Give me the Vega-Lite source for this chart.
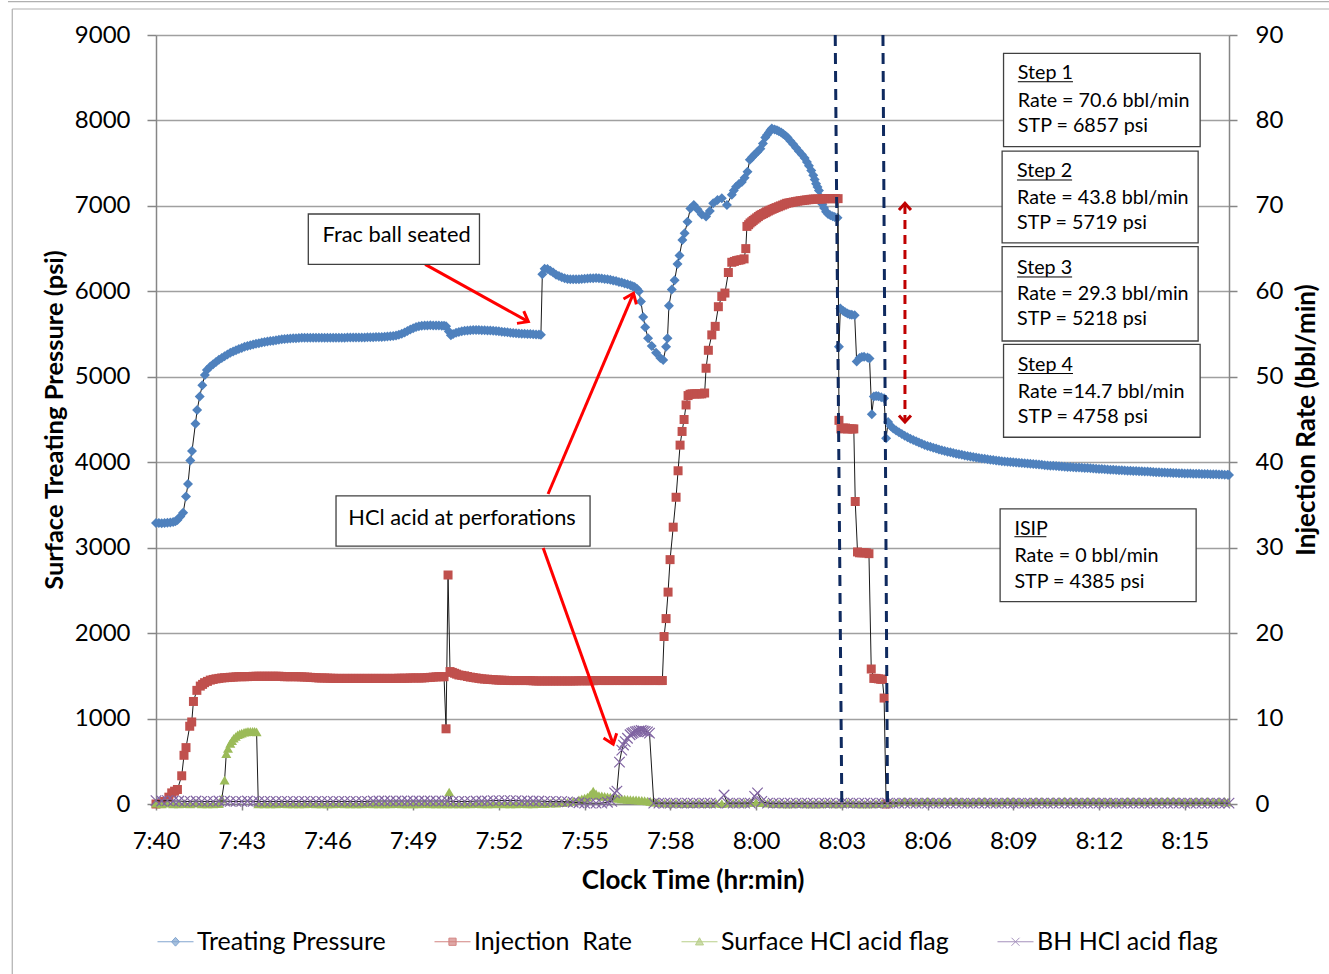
{
"$schema": "https://vega.github.io/schema/vega-lite/v6.json",
"width": 1073, "height": 769,
"autosize": "none",
"padding": {"left": 156, "top": 35, "right": 100, "bottom": 170},
"background": "white",
"config": {"view": {"stroke": null}, "font": "Lato", "text": {"font": "Lato"}},
"datasets": {
"pressure": [
{"t":0,"v":3290},{"t":0.1,"v":3288},{"t":0.2,"v":3286},{"t":0.3,"v":3290},{"t":0.4,"v":3291},{"t":0.5,"v":3294},{"t":0.6,"v":3300},{"t":0.68,"v":3310},{"t":0.75,"v":3325},{"t":0.85,"v":3365},{"t":0.95,"v":3410},{"t":1.05,"v":3600},{"t":1.12,"v":3745},{"t":1.2,"v":4020},{"t":1.26,"v":4130},{"t":1.38,"v":4450},{"t":1.44,"v":4610},{"t":1.53,"v":4770},{"t":1.62,"v":4900},{"t":1.71,"v":5020},{"t":1.78,"v":5080},{"t":1.9,"v":5120},{"t":2.0,"v":5148},{"t":2.1,"v":5173},{"t":2.2,"v":5200},{"t":2.3,"v":5220},{"t":2.4,"v":5240},{"t":2.5,"v":5260},{"t":2.6,"v":5280},{"t":2.7,"v":5296},{"t":2.8,"v":5310},{"t":2.9,"v":5325},{"t":3.0,"v":5338},{"t":3.1,"v":5350},{"t":3.2,"v":5360},{"t":3.3,"v":5370},{"t":3.4,"v":5378},{"t":3.5,"v":5386},{"t":3.6,"v":5393},{"t":3.7,"v":5400},{"t":3.8,"v":5406},{"t":3.9,"v":5412},{"t":4.0,"v":5418},{"t":4.1,"v":5423},{"t":4.2,"v":5428},{"t":4.3,"v":5433},{"t":4.4,"v":5438},{"t":4.5,"v":5442},{"t":4.6,"v":5445},{"t":4.7,"v":5448},{"t":4.8,"v":5450},{"t":4.9,"v":5452},{"t":5.0,"v":5454},{"t":5.1,"v":5456},{"t":5.2,"v":5457},{"t":5.3,"v":5458},{"t":5.4,"v":5458},{"t":5.5,"v":5458},{"t":5.6,"v":5458},{"t":5.7,"v":5458},{"t":5.8,"v":5458},{"t":5.9,"v":5457},{"t":6.0,"v":5457},{"t":6.1,"v":5457},{"t":6.2,"v":5457},{"t":6.3,"v":5458},{"t":6.4,"v":5458},{"t":6.5,"v":5458},{"t":6.6,"v":5458},{"t":6.7,"v":5459},{"t":6.8,"v":5459},{"t":6.9,"v":5459},{"t":7.0,"v":5459},{"t":7.1,"v":5460},{"t":7.2,"v":5460},{"t":7.3,"v":5461},{"t":7.4,"v":5462},{"t":7.5,"v":5463},{"t":7.6,"v":5464},{"t":7.7,"v":5465},{"t":7.8,"v":5466},{"t":7.9,"v":5467},{"t":8.0,"v":5469},{"t":8.1,"v":5471},{"t":8.2,"v":5474},{"t":8.3,"v":5478},{"t":8.4,"v":5484},{"t":8.5,"v":5493},{"t":8.6,"v":5505},{"t":8.7,"v":5519},{"t":8.8,"v":5535},{"t":8.9,"v":5552},{"t":9.0,"v":5568},{"t":9.1,"v":5582},{"t":9.2,"v":5592},{"t":9.3,"v":5597},{"t":9.4,"v":5600},{"t":9.5,"v":5601},{"t":9.6,"v":5602},{"t":9.7,"v":5601},{"t":9.8,"v":5600},{"t":9.9,"v":5599},{"t":10.0,"v":5598},{"t":10.08,"v":5596},{"t":10.15,"v":5590},{"t":10.25,"v":5530},{"t":10.32,"v":5485},{"t":10.4,"v":5500},{"t":10.5,"v":5515},{"t":10.6,"v":5525},{"t":10.7,"v":5532},{"t":10.8,"v":5538},{"t":10.9,"v":5542},{"t":11.0,"v":5545},{"t":11.1,"v":5547},{"t":11.2,"v":5548},{"t":11.3,"v":5547},{"t":11.4,"v":5546},{"t":11.5,"v":5545},{"t":11.6,"v":5543},{"t":11.7,"v":5541},{"t":11.8,"v":5538},{"t":11.9,"v":5535},{"t":12.0,"v":5532},{"t":12.1,"v":5528},{"t":12.2,"v":5524},{"t":12.3,"v":5520},{"t":12.4,"v":5516},{"t":12.5,"v":5513},{"t":12.6,"v":5510},{"t":12.7,"v":5507},{"t":12.8,"v":5505},{"t":12.9,"v":5503},{"t":13.0,"v":5502},{"t":13.1,"v":5500},{"t":13.2,"v":5498},{"t":13.3,"v":5496},{"t":13.4,"v":5495},{"t":13.47,"v":5493},
{"t":13.52,"v":6200},{"t":13.6,"v":6265},{"t":13.7,"v":6262},{"t":13.8,"v":6242},{"t":13.9,"v":6220},{"t":14.0,"v":6195},{"t":14.1,"v":6180},{"t":14.2,"v":6165},{"t":14.3,"v":6153},{"t":14.4,"v":6145},{"t":14.5,"v":6142},{"t":14.6,"v":6140},{"t":14.7,"v":6140},{"t":14.8,"v":6142},{"t":14.9,"v":6145},{"t":15.0,"v":6147},{"t":15.1,"v":6150},{"t":15.2,"v":6152},{"t":15.3,"v":6154},{"t":15.4,"v":6155},{"t":15.5,"v":6153},{"t":15.6,"v":6150},{"t":15.7,"v":6145},{"t":15.8,"v":6140},{"t":15.9,"v":6135},{"t":16.0,"v":6128},{"t":16.1,"v":6120},{"t":16.2,"v":6110},{"t":16.3,"v":6102},{"t":16.4,"v":6093},{"t":16.5,"v":6082},{"t":16.6,"v":6070},{"t":16.68,"v":6060},{"t":16.75,"v":6050},{"t":16.83,"v":6030},{"t":16.9,"v":6000},{"t":16.97,"v":5880},{"t":17.05,"v":5700},{"t":17.12,"v":5580},{"t":17.22,"v":5450},{"t":17.35,"v":5360},{"t":17.5,"v":5280},{"t":17.65,"v":5220},{"t":17.75,"v":5195},{"t":17.85,"v":5350},{"t":17.9,"v":5450},{"t":17.95,"v":5830},{"t":18.05,"v":6020},{"t":18.15,"v":6130},{"t":18.25,"v":6320},{"t":18.32,"v":6420},{"t":18.42,"v":6600},{"t":18.5,"v":6680},{"t":18.6,"v":6815},{"t":18.7,"v":6970},{"t":18.82,"v":7010},{"t":18.95,"v":6960},{"t":19.1,"v":6900},{"t":19.25,"v":6875},{"t":19.38,"v":6940},{"t":19.5,"v":7030},{"t":19.65,"v":7070},{"t":19.8,"v":7090},{"t":19.98,"v":7010},{"t":20.15,"v":7130},{"t":20.22,"v":7180},{"t":20.3,"v":7225},{"t":20.4,"v":7255},{"t":20.5,"v":7280},{"t":20.6,"v":7330},{"t":20.7,"v":7400},{"t":20.78,"v":7540},{"t":20.86,"v":7570},{"t":20.95,"v":7600},{"t":21.05,"v":7635},{"t":21.15,"v":7670},{"t":21.24,"v":7730},{"t":21.32,"v":7800},{"t":21.38,"v":7830},{"t":21.45,"v":7860},{"t":21.5,"v":7885},{"t":21.55,"v":7905},{"t":21.65,"v":7895},{"t":21.73,"v":7885},{"t":21.8,"v":7875},{"t":21.88,"v":7858},{"t":21.95,"v":7840},{"t":22.03,"v":7820},{"t":22.1,"v":7800},{"t":22.2,"v":7760},{"t":22.3,"v":7720},{"t":22.4,"v":7680},{"t":22.5,"v":7640},{"t":22.6,"v":7600},{"t":22.7,"v":7560},{"t":22.78,"v":7515},{"t":22.85,"v":7470},{"t":22.93,"v":7415},{"t":23.0,"v":7360},{"t":23.05,"v":7310},{"t":23.1,"v":7260},{"t":23.15,"v":7220},{"t":23.2,"v":7180},{"t":23.26,"v":7100},{"t":23.32,"v":7020},{"t":23.38,"v":6975},{"t":23.45,"v":6930},{"t":23.52,"v":6905},{"t":23.6,"v":6890},{"t":23.68,"v":6878},{"t":23.75,"v":6870},{"t":23.85,"v":6860},
{"t":23.9,"v":5350},{"t":23.95,"v":5800},{"t":24.05,"v":5770},{"t":24.12,"v":5755},{"t":24.2,"v":5740},{"t":24.28,"v":5730},{"t":24.35,"v":5725},{"t":24.45,"v":5720},{"t":24.52,"v":5180},{"t":24.62,"v":5220},{"t":24.7,"v":5232},{"t":24.78,"v":5235},{"t":24.9,"v":5225},{"t":24.97,"v":5215},{"t":25.05,"v":4560},{"t":25.12,"v":4770},{"t":25.2,"v":4775},{"t":25.28,"v":4772},{"t":25.38,"v":4760},{"t":25.48,"v":4750},{"t":25.55,"v":4280},{"t":25.62,"v":4470},{"t":25.72,"v":4420},{"t":25.8,"v":4395},{"t":25.9,"v":4372},
{"t":26.0,"v":4350},{"t":26.1,"v":4330},{"t":26.2,"v":4310},{"t":26.3,"v":4292},{"t":26.4,"v":4275},{"t":26.5,"v":4260},{"t":26.6,"v":4245},{"t":26.7,"v":4230},{"t":26.8,"v":4215},{"t":26.9,"v":4202},{"t":27.0,"v":4190},{"t":27.1,"v":4180},{"t":27.2,"v":4170},{"t":27.3,"v":4160},{"t":27.4,"v":4150},{"t":27.5,"v":4141},{"t":27.6,"v":4132},{"t":27.7,"v":4124},{"t":27.8,"v":4116},{"t":27.9,"v":4108},{"t":28.0,"v":4100},{"t":28.1,"v":4093},{"t":28.2,"v":4087},{"t":28.3,"v":4080},{"t":28.4,"v":4074},{"t":28.5,"v":4068},{"t":28.6,"v":4062},{"t":28.7,"v":4056},{"t":28.8,"v":4050},{"t":28.9,"v":4045},{"t":29.0,"v":4040},{"t":29.1,"v":4035},{"t":29.2,"v":4030},{"t":29.3,"v":4025},{"t":29.4,"v":4020},{"t":29.5,"v":4016},{"t":29.6,"v":4012},{"t":29.7,"v":4008},{"t":29.8,"v":4005},{"t":29.9,"v":4002},{"t":30.0,"v":3999},{"t":30.1,"v":3996},{"t":30.2,"v":3993},{"t":30.3,"v":3990},{"t":30.4,"v":3987},{"t":30.5,"v":3984},{"t":30.6,"v":3981},{"t":30.7,"v":3978},{"t":30.8,"v":3975},{"t":30.9,"v":3972},{"t":31.0,"v":3969},{"t":31.1,"v":3966},{"t":31.2,"v":3963},{"t":31.3,"v":3960},{"t":31.4,"v":3958},{"t":31.5,"v":3955},{"t":31.6,"v":3953},{"t":31.7,"v":3950},{"t":31.8,"v":3948},{"t":31.9,"v":3945},{"t":32.0,"v":3943},{"t":32.1,"v":3941},{"t":32.2,"v":3939},{"t":32.3,"v":3937},{"t":32.4,"v":3935},{"t":32.5,"v":3933},{"t":32.6,"v":3931},{"t":32.7,"v":3929},{"t":32.8,"v":3927},{"t":32.9,"v":3925},{"t":33.0,"v":3922},{"t":33.1,"v":3920},{"t":33.2,"v":3917},{"t":33.3,"v":3915},{"t":33.4,"v":3913},{"t":33.5,"v":3911},{"t":33.6,"v":3909},{"t":33.7,"v":3907},{"t":33.8,"v":3905},{"t":33.9,"v":3903},{"t":34.0,"v":3901},{"t":34.1,"v":3900},{"t":34.2,"v":3898},{"t":34.3,"v":3897},{"t":34.4,"v":3895},{"t":34.5,"v":3893},{"t":34.6,"v":3891},{"t":34.7,"v":3890},{"t":34.8,"v":3888},{"t":34.9,"v":3886},{"t":35.0,"v":3884},{"t":35.1,"v":3882},{"t":35.2,"v":3880},{"t":35.3,"v":3879},{"t":35.4,"v":3877},{"t":35.5,"v":3876},{"t":35.6,"v":3874},{"t":35.7,"v":3873},{"t":35.8,"v":3871},{"t":35.9,"v":3870},{"t":36.0,"v":3869},{"t":36.1,"v":3868},{"t":36.2,"v":3867},{"t":36.3,"v":3866},{"t":36.4,"v":3865},{"t":36.5,"v":3864},{"t":36.6,"v":3863},{"t":36.7,"v":3862},{"t":36.8,"v":3861},{"t":36.9,"v":3860},{"t":37.0,"v":3859},{"t":37.1,"v":3858},{"t":37.2,"v":3857},{"t":37.3,"v":3856},{"t":37.4,"v":3854},{"t":37.5,"v":3852},{"t":37.55,"v":3850}
],
"rate": [
{"t":0,"v":0},{"t":0.15,"v":0.05},{"t":0.3,"v":0.3},{"t":0.45,"v":0.8},{"t":0.55,"v":1.3},{"t":0.65,"v":1.5},{"t":0.75,"v":1.7},{"t":0.9,"v":3.3},{"t":0.98,"v":5.7},{"t":1.05,"v":6.6},{"t":1.18,"v":9.1},{"t":1.25,"v":9.6},{"t":1.31,"v":12.0},{"t":1.43,"v":13.3},{"t":1.55,"v":13.8},{"t":1.63,"v":14.0},{"t":1.7,"v":14.2},{"t":1.8,"v":14.35},{"t":1.9,"v":14.5},{"t":2.0,"v":14.58},{"t":2.1,"v":14.65},{"t":2.2,"v":14.7},{"t":2.3,"v":14.75},{"t":2.4,"v":14.78},{"t":2.5,"v":14.8},{"t":2.6,"v":14.83},{"t":2.7,"v":14.85},{"t":2.8,"v":14.88},{"t":2.9,"v":14.9},{"t":3.0,"v":14.9},{"t":3.1,"v":14.9},{"t":3.2,"v":14.91},{"t":3.3,"v":14.92},{"t":3.4,"v":14.94},{"t":3.5,"v":14.95},{"t":3.6,"v":14.95},{"t":3.7,"v":14.95},{"t":3.8,"v":14.95},{"t":3.9,"v":14.95},{"t":4.0,"v":14.95},{"t":4.1,"v":14.95},{"t":4.2,"v":14.95},{"t":4.3,"v":14.95},{"t":4.4,"v":14.93},{"t":4.5,"v":14.9},{"t":4.6,"v":14.9},{"t":4.7,"v":14.9},{"t":4.8,"v":14.9},{"t":4.9,"v":14.9},{"t":5.0,"v":14.89},{"t":5.1,"v":14.88},{"t":5.2,"v":14.86},{"t":5.3,"v":14.85},{"t":5.4,"v":14.82},{"t":5.5,"v":14.8},{"t":5.6,"v":14.78},{"t":5.7,"v":14.75},{"t":5.8,"v":14.75},{"t":5.9,"v":14.75},{"t":6.0,"v":14.73},{"t":6.1,"v":14.72},{"t":6.2,"v":14.71},{"t":6.3,"v":14.7},{"t":6.4,"v":14.7},{"t":6.5,"v":14.7},{"t":6.6,"v":14.7},{"t":6.7,"v":14.7},{"t":6.8,"v":14.7},{"t":6.9,"v":14.7},{"t":7.0,"v":14.7},{"t":7.1,"v":14.7},{"t":7.2,"v":14.7},{"t":7.3,"v":14.7},{"t":7.4,"v":14.7},{"t":7.5,"v":14.7},{"t":7.6,"v":14.7},{"t":7.7,"v":14.7},{"t":7.8,"v":14.7},{"t":7.9,"v":14.7},{"t":8.0,"v":14.7},{"t":8.1,"v":14.7},{"t":8.2,"v":14.7},{"t":8.3,"v":14.7},{"t":8.4,"v":14.7},{"t":8.5,"v":14.72},{"t":8.6,"v":14.72},{"t":8.7,"v":14.72},{"t":8.8,"v":14.72},{"t":8.9,"v":14.75},{"t":9.0,"v":14.75},{"t":9.1,"v":14.75},{"t":9.2,"v":14.75},{"t":9.3,"v":14.75},{"t":9.4,"v":14.77},{"t":9.5,"v":14.8},{"t":9.6,"v":14.82},{"t":9.7,"v":14.85},{"t":9.8,"v":14.88},{"t":9.9,"v":14.9},{"t":10.0,"v":14.9},{"t":10.08,"v":14.9},{"t":10.15,"v":8.8},{"t":10.22,"v":26.8},{"t":10.29,"v":15.5},{"t":10.37,"v":15.4},{"t":10.45,"v":15.3},{"t":10.52,"v":15.2},{"t":10.6,"v":15.1},{"t":10.7,"v":15.05},{"t":10.8,"v":15.0},{"t":10.9,"v":14.92},{"t":11.0,"v":14.85},{"t":11.1,"v":14.8},{"t":11.2,"v":14.75},{"t":11.3,"v":14.7},{"t":11.4,"v":14.65},{"t":11.5,"v":14.62},{"t":11.6,"v":14.6},{"t":11.7,"v":14.57},{"t":11.8,"v":14.55},{"t":11.9,"v":14.52},{"t":12.0,"v":14.5},{"t":12.1,"v":14.49},{"t":12.2,"v":14.48},{"t":12.3,"v":14.46},{"t":12.4,"v":14.45},{"t":12.5,"v":14.45},{"t":12.6,"v":14.45},{"t":12.7,"v":14.45},{"t":12.8,"v":14.45},{"t":12.9,"v":14.45},{"t":13.0,"v":14.45},{"t":13.1,"v":14.44},{"t":13.2,"v":14.42},{"t":13.3,"v":14.4},{"t":13.4,"v":14.4},{"t":13.5,"v":14.4},{"t":13.6,"v":14.4},{"t":13.7,"v":14.4},{"t":13.8,"v":14.4},{"t":13.9,"v":14.4},{"t":14.0,"v":14.4},{"t":14.1,"v":14.4},{"t":14.2,"v":14.4},{"t":14.3,"v":14.4},{"t":14.4,"v":14.4},{"t":14.5,"v":14.4},{"t":14.6,"v":14.4},{"t":14.7,"v":14.41},{"t":14.8,"v":14.42},{"t":14.9,"v":14.42},{"t":15.0,"v":14.42},{"t":15.1,"v":14.42},{"t":15.2,"v":14.42},{"t":15.3,"v":14.43},{"t":15.4,"v":14.45},{"t":15.5,"v":14.45},{"t":15.6,"v":14.45},{"t":15.7,"v":14.45},{"t":15.8,"v":14.45},{"t":15.9,"v":14.45},{"t":16.0,"v":14.45},{"t":16.1,"v":14.45},{"t":16.2,"v":14.45},{"t":16.3,"v":14.45},{"t":16.4,"v":14.45},{"t":16.5,"v":14.45},{"t":16.6,"v":14.45},{"t":16.7,"v":14.45},{"t":16.8,"v":14.45},{"t":16.9,"v":14.45},{"t":17.0,"v":14.45},{"t":17.1,"v":14.45},{"t":17.2,"v":14.45},{"t":17.3,"v":14.45},{"t":17.4,"v":14.45},{"t":17.5,"v":14.45},{"t":17.6,"v":14.45},{"t":17.66,"v":14.45},{"t":17.72,"v":14.45},
{"t":17.78,"v":19.6},{"t":17.85,"v":21.7},{"t":17.92,"v":24.8},{"t":17.99,"v":28.6},{"t":18.1,"v":32.4},{"t":18.2,"v":35.9},{"t":18.27,"v":39.0},{"t":18.34,"v":42.0},{"t":18.41,"v":43.6},{"t":18.48,"v":45.0},{"t":18.55,"v":46.7},{"t":18.62,"v":47.8},{"t":18.69,"v":47.95},{"t":18.76,"v":48.0},{"t":18.85,"v":48.0},{"t":18.93,"v":48.0},{"t":19.02,"v":48.0},{"t":19.1,"v":48.0},{"t":19.2,"v":48.1},{"t":19.25,"v":51.0},{"t":19.33,"v":53.1},{"t":19.45,"v":54.9},{"t":19.57,"v":55.9},{"t":19.68,"v":58.2},{"t":19.8,"v":59.4},{"t":19.91,"v":59.8},{"t":20.03,"v":62.2},{"t":20.15,"v":63.4},{"t":20.24,"v":63.5},{"t":20.32,"v":63.6},{"t":20.4,"v":63.65},{"t":20.47,"v":63.7},{"t":20.58,"v":63.8},{"t":20.64,"v":65.0},{"t":20.68,"v":67.6},{"t":20.74,"v":67.8},{"t":20.79,"v":68.0},{"t":20.85,"v":68.15},{"t":20.9,"v":68.3},{"t":20.96,"v":68.45},{"t":21.02,"v":68.6},{"t":21.08,"v":68.75},{"t":21.14,"v":68.9},{"t":21.2,"v":69.0},{"t":21.26,"v":69.1},{"t":21.32,"v":69.2},{"t":21.37,"v":69.3},{"t":21.43,"v":69.4},{"t":21.49,"v":69.5},{"t":21.56,"v":69.6},{"t":21.63,"v":69.7},{"t":21.7,"v":69.8},{"t":21.78,"v":69.9},{"t":21.85,"v":70.0},{"t":21.93,"v":70.1},{"t":22.0,"v":70.2},{"t":22.07,"v":70.3},{"t":22.15,"v":70.35},{"t":22.22,"v":70.4},{"t":22.3,"v":70.45},{"t":22.38,"v":70.5},{"t":22.46,"v":70.55},{"t":22.54,"v":70.6},{"t":22.62,"v":70.63},{"t":22.7,"v":70.67},{"t":22.77,"v":70.7},{"t":22.85,"v":70.73},{"t":22.92,"v":70.77},{"t":23.0,"v":70.8},{"t":23.08,"v":70.8},{"t":23.16,"v":70.8},{"t":23.24,"v":70.8},{"t":23.32,"v":70.82},{"t":23.4,"v":70.84},{"t":23.47,"v":70.85},{"t":23.55,"v":70.85},{"t":23.62,"v":70.85},{"t":23.7,"v":70.85},{"t":23.78,"v":70.85},{"t":23.87,"v":70.85},
{"t":23.9,"v":44.9},{"t":23.97,"v":43.9},{"t":24.05,"v":44.0},{"t":24.13,"v":44.0},{"t":24.2,"v":43.9},{"t":24.28,"v":43.9},{"t":24.36,"v":43.9},{"t":24.42,"v":43.9},{"t":24.47,"v":35.4},{"t":24.55,"v":29.5},{"t":24.62,"v":29.4},{"t":24.7,"v":29.4},{"t":24.78,"v":29.4},{"t":24.86,"v":29.4},{"t":24.95,"v":29.3},{"t":25.03,"v":15.8},{"t":25.12,"v":14.7},{"t":25.2,"v":14.7},{"t":25.28,"v":14.65},{"t":25.36,"v":14.6},{"t":25.42,"v":14.6},{"t":25.48,"v":12.4},{"t":25.55,"v":0}
],
"surf": [
{"t":0,"v":0.1},{"t":0.2,"v":0},{"t":0.4,"v":0.1},{"t":0.6,"v":0},{"t":0.8,"v":0},{"t":1.0,"v":0.05},{"t":1.2,"v":0},{"t":1.4,"v":0.1},{"t":1.6,"v":0},{"t":1.8,"v":0},{"t":2.0,"v":0},{"t":2.2,"v":0.05},{"t":2.3,"v":0.6},{"t":2.4,"v":2.8},{"t":2.46,"v":5.9},{"t":2.52,"v":6.5},{"t":2.6,"v":7.1},{"t":2.66,"v":7.4},{"t":2.72,"v":7.7},{"t":2.79,"v":7.9},{"t":2.86,"v":8.1},{"t":2.93,"v":8.2},{"t":3.0,"v":8.3},{"t":3.08,"v":8.4},{"t":3.15,"v":8.45},{"t":3.22,"v":8.5},{"t":3.3,"v":8.5},{"t":3.38,"v":8.5},{"t":3.45,"v":8.5},{"t":3.52,"v":8.45},{"t":3.58,"v":0},{"t":3.8,"v":0},{"t":4.0,"v":0},{"t":4.2,"v":0},{"t":4.4,"v":0.05},{"t":4.6,"v":0},{"t":4.8,"v":0},{"t":5.0,"v":0},{"t":5.2,"v":0},{"t":5.4,"v":0.05},{"t":5.6,"v":0},{"t":5.8,"v":0},{"t":6.0,"v":0},{"t":6.2,"v":0},{"t":6.4,"v":0.05},{"t":6.6,"v":0},{"t":6.8,"v":0},{"t":7.0,"v":0},{"t":7.2,"v":0},{"t":7.4,"v":0.05},{"t":7.6,"v":0},{"t":7.8,"v":0},{"t":8.0,"v":0},{"t":8.2,"v":0},{"t":8.4,"v":0.05},{"t":8.6,"v":0},{"t":8.8,"v":0},{"t":9.0,"v":0},{"t":9.2,"v":0},{"t":9.4,"v":0.05},{"t":9.6,"v":0},{"t":9.8,"v":0},{"t":10.0,"v":0},{"t":10.2,"v":0},{"t":10.26,"v":1.4},{"t":10.4,"v":0},{"t":10.6,"v":0},{"t":10.8,"v":0},{"t":11.0,"v":0},{"t":11.2,"v":0.05},{"t":11.4,"v":0},{"t":11.6,"v":0},{"t":11.8,"v":0},{"t":12.0,"v":0.05},{"t":12.2,"v":0},{"t":12.4,"v":0},{"t":12.6,"v":0},{"t":12.8,"v":0.05},{"t":13.0,"v":0},{"t":13.2,"v":0},{"t":13.4,"v":0.05},{"t":13.6,"v":0.05},{"t":13.8,"v":0.1},{"t":14.0,"v":0.1},{"t":14.2,"v":0.15},{"t":14.4,"v":0.2},{"t":14.6,"v":0.3},{"t":14.8,"v":0.5},{"t":14.9,"v":0.6},{"t":15.0,"v":0.7},{"t":15.1,"v":0.8},{"t":15.2,"v":1.1},{"t":15.3,"v":1.5},{"t":15.4,"v":1.2},{"t":15.5,"v":1.0},{"t":15.6,"v":0.95},{"t":15.7,"v":0.9},{"t":15.8,"v":0.85},{"t":15.9,"v":0.8},{"t":16.0,"v":0.75},{"t":16.1,"v":0.7},{"t":16.2,"v":0.65},{"t":16.3,"v":0.6},{"t":16.4,"v":0.58},{"t":16.5,"v":0.55},{"t":16.6,"v":0.52},{"t":16.7,"v":0.5},{"t":16.8,"v":0.48},{"t":16.9,"v":0.45},{"t":17.0,"v":0.42},{"t":17.1,"v":0.4},{"t":17.2,"v":0.35},{"t":17.3,"v":0.3},{"t":17.4,"v":0.25},{"t":17.5,"v":0.2},{"t":17.6,"v":0.15},{"t":17.8,"v":0.1},{"t":18.0,"v":0.1},{"t":18.2,"v":0.1},{"t":18.4,"v":0.05},{"t":18.6,"v":0.05},{"t":18.8,"v":0.05},{"t":19.0,"v":0.1},{"t":19.2,"v":0.05},{"t":19.4,"v":0.05},{"t":19.6,"v":0.1},{"t":19.8,"v":0.05},{"t":20.0,"v":0.1},{"t":20.2,"v":0.1},{"t":20.4,"v":0.1},{"t":20.6,"v":0.1},{"t":20.8,"v":0.15},{"t":21.0,"v":0.2},{"t":21.2,"v":0.15},{"t":21.4,"v":0.1},{"t":21.6,"v":0.05},{"t":21.8,"v":0.05},{"t":22.0,"v":0},{"t":22.2,"v":0},{"t":22.4,"v":0.05},{"t":22.6,"v":0.05},{"t":22.8,"v":0},{"t":23.0,"v":0},{"t":23.2,"v":0},{"t":23.4,"v":0.05},{"t":23.6,"v":0.05},{"t":23.8,"v":0},{"t":24.0,"v":0.05},{"t":24.2,"v":0.1},{"t":24.4,"v":0.05},{"t":24.6,"v":0},{"t":24.8,"v":0},{"t":25.0,"v":0},{"t":25.2,"v":0.05},{"t":25.4,"v":0.05},{"t":25.6,"v":0.1},{"t":25.8,"v":0.15},{"t":26.0,"v":0.2},{"t":26.2,"v":0.3},{"t":26.4,"v":0.25},{"t":26.6,"v":0.2},{"t":26.8,"v":0.25},{"t":27.0,"v":0.3},{"t":27.2,"v":0.25},{"t":27.4,"v":0.2},{"t":27.6,"v":0.3},{"t":27.8,"v":0.3},{"t":28.0,"v":0.3},{"t":28.2,"v":0.25},{"t":28.4,"v":0.2},{"t":28.6,"v":0.25},{"t":28.8,"v":0.3},{"t":29.0,"v":0.3},{"t":29.2,"v":0.25},{"t":29.4,"v":0.2},{"t":29.6,"v":0.25},{"t":29.8,"v":0.3},{"t":30.0,"v":0.3},{"t":30.2,"v":0.25},{"t":30.4,"v":0.2},{"t":30.6,"v":0.25},{"t":30.8,"v":0.3},{"t":31.0,"v":0.3},{"t":31.2,"v":0.25},{"t":31.4,"v":0.3},{"t":31.6,"v":0.3},{"t":31.8,"v":0.35},{"t":32.0,"v":0.3},{"t":32.2,"v":0.3},{"t":32.4,"v":0.25},{"t":32.6,"v":0.3},{"t":32.8,"v":0.3},{"t":33.0,"v":0.3},{"t":33.2,"v":0.25},{"t":33.4,"v":0.25},{"t":33.6,"v":0.2},{"t":33.8,"v":0.25},{"t":34.0,"v":0.3},{"t":34.2,"v":0.3},{"t":34.4,"v":0.3},{"t":34.6,"v":0.25},{"t":34.8,"v":0.3},{"t":35.0,"v":0.3},{"t":35.2,"v":0.3},{"t":35.4,"v":0.35},{"t":35.6,"v":0.35},{"t":35.8,"v":0.3},{"t":36.0,"v":0.25},{"t":36.2,"v":0.25},{"t":36.4,"v":0.3},{"t":36.6,"v":0.3},{"t":36.8,"v":0.3},{"t":37.0,"v":0.25},{"t":37.2,"v":0.3},{"t":37.4,"v":0.3},{"t":37.5,"v":0.2}
],
"bh": [
{"t":0,"v":0.4},{"t":0.2,"v":0.35},{"t":0.4,"v":0.4},{"t":0.6,"v":0.35},{"t":0.8,"v":0.35},{"t":1.0,"v":0.3},{"t":1.2,"v":0.3},{"t":1.4,"v":0.35},{"t":1.6,"v":0.3},{"t":1.8,"v":0.3},{"t":2.0,"v":0.3},{"t":2.2,"v":0.35},{"t":2.4,"v":0.35},{"t":2.6,"v":0.3},{"t":2.8,"v":0.3},{"t":3.0,"v":0.3},{"t":3.2,"v":0.35},{"t":3.4,"v":0.3},{"t":3.6,"v":0.3},{"t":3.8,"v":0.3},{"t":4.0,"v":0.3},{"t":4.2,"v":0.3},{"t":4.4,"v":0.3},{"t":4.6,"v":0.3},{"t":4.8,"v":0.3},{"t":5.0,"v":0.3},{"t":5.2,"v":0.3},{"t":5.4,"v":0.3},{"t":5.6,"v":0.3},{"t":5.8,"v":0.3},{"t":6.0,"v":0.3},{"t":6.2,"v":0.3},{"t":6.4,"v":0.3},{"t":6.6,"v":0.3},{"t":6.8,"v":0.3},{"t":7.0,"v":0.3},{"t":7.2,"v":0.3},{"t":7.4,"v":0.3},{"t":7.6,"v":0.35},{"t":7.8,"v":0.35},{"t":8.0,"v":0.35},{"t":8.2,"v":0.35},{"t":8.4,"v":0.35},{"t":8.6,"v":0.35},{"t":8.8,"v":0.35},{"t":9.0,"v":0.35},{"t":9.2,"v":0.35},{"t":9.4,"v":0.35},{"t":9.6,"v":0.35},{"t":9.8,"v":0.35},{"t":10.0,"v":0.35},{"t":10.2,"v":0.35},{"t":10.4,"v":0.3},{"t":10.6,"v":0.3},{"t":10.8,"v":0.3},{"t":11.0,"v":0.3},{"t":11.2,"v":0.35},{"t":11.4,"v":0.35},{"t":11.6,"v":0.35},{"t":11.8,"v":0.4},{"t":12.0,"v":0.4},{"t":12.2,"v":0.4},{"t":12.4,"v":0.4},{"t":12.6,"v":0.4},{"t":12.8,"v":0.35},{"t":13.0,"v":0.35},{"t":13.2,"v":0.35},{"t":13.4,"v":0.35},{"t":13.6,"v":0.3},{"t":13.8,"v":0.3},{"t":14.0,"v":0.3},{"t":14.2,"v":0.3},{"t":14.4,"v":0.25},{"t":14.6,"v":0.2},{"t":14.8,"v":0.15},{"t":15.0,"v":0.1},{"t":15.2,"v":0.1},{"t":15.4,"v":0.1},{"t":15.6,"v":0.1},{"t":15.8,"v":0.2},{"t":15.95,"v":0.3},{"t":16.05,"v":1.3},{"t":16.13,"v":1.5},{"t":16.22,"v":4.9},{"t":16.3,"v":6.3},{"t":16.36,"v":6.9},{"t":16.42,"v":7.3},{"t":16.5,"v":7.7},{"t":16.59,"v":8.1},{"t":16.65,"v":8.25},{"t":16.7,"v":8.35},{"t":16.77,"v":8.45},{"t":16.83,"v":8.5},{"t":16.9,"v":8.55},{"t":16.98,"v":8.6},{"t":17.05,"v":8.55},{"t":17.12,"v":8.5},{"t":17.2,"v":8.45},{"t":17.27,"v":8.3},{"t":17.42,"v":0.1},{"t":17.6,"v":0.1},{"t":17.8,"v":0.1},{"t":18.0,"v":0.1},{"t":18.2,"v":0.1},{"t":18.4,"v":0.1},{"t":18.6,"v":0.1},{"t":18.8,"v":0.1},{"t":19.0,"v":0.1},{"t":19.2,"v":0.1},{"t":19.4,"v":0.1},{"t":19.6,"v":0.1},{"t":19.88,"v":1.05},{"t":20.0,"v":0.1},{"t":20.2,"v":0.1},{"t":20.4,"v":0.1},{"t":20.6,"v":0.1},{"t":20.8,"v":0.1},{"t":20.95,"v":0.9},{"t":21.05,"v":1.3},{"t":21.2,"v":0.3},{"t":21.4,"v":0.1},{"t":21.6,"v":0.1},{"t":21.8,"v":0.1},{"t":22.0,"v":0.1},{"t":22.2,"v":0.1},{"t":22.4,"v":0.1},{"t":22.6,"v":0.1},{"t":22.8,"v":0.1},{"t":23.0,"v":0.1},{"t":23.2,"v":0.1},{"t":23.4,"v":0.1},{"t":23.6,"v":0.1},{"t":23.8,"v":0.1},{"t":24.0,"v":0.1},{"t":24.2,"v":0.1},{"t":24.4,"v":0.1},{"t":24.6,"v":0.1},{"t":24.8,"v":0.1},{"t":25.0,"v":0.1},{"t":25.2,"v":0.1},{"t":25.4,"v":0.1},{"t":25.6,"v":0.1},{"t":25.8,"v":0.1},{"t":26.0,"v":0.1},{"t":26.2,"v":0.1},{"t":26.4,"v":0.1},{"t":26.6,"v":0.1},{"t":26.8,"v":0.1},{"t":27.0,"v":0.1},{"t":27.2,"v":0.1},{"t":27.4,"v":0.1},{"t":27.6,"v":0.1},{"t":27.8,"v":0.1},{"t":28.0,"v":0.1},{"t":28.2,"v":0.1},{"t":28.4,"v":0.1},{"t":28.6,"v":0.1},{"t":28.8,"v":0.1},{"t":29.0,"v":0.1},{"t":29.2,"v":0.1},{"t":29.4,"v":0.1},{"t":29.6,"v":0.1},{"t":29.8,"v":0.1},{"t":30.0,"v":0.1},{"t":30.2,"v":0.1},{"t":30.4,"v":0.1},{"t":30.6,"v":0.1},{"t":30.8,"v":0.1},{"t":31.0,"v":0.1},{"t":31.2,"v":0.1},{"t":31.4,"v":0.1},{"t":31.6,"v":0.1},{"t":31.8,"v":0.1},{"t":32.0,"v":0.1},{"t":32.2,"v":0.1},{"t":32.4,"v":0.1},{"t":32.6,"v":0.1},{"t":32.8,"v":0.1},{"t":33.0,"v":0.1},{"t":33.2,"v":0.1},{"t":33.4,"v":0.1},{"t":33.6,"v":0.1},{"t":33.8,"v":0.1},{"t":34.0,"v":0.1},{"t":34.2,"v":0.1},{"t":34.4,"v":0.1},{"t":34.6,"v":0.1},{"t":34.8,"v":0.1},{"t":35.0,"v":0.1},{"t":35.2,"v":0.1},{"t":35.4,"v":0.1},{"t":35.6,"v":0.1},{"t":35.8,"v":0.1},{"t":36.0,"v":0.1},{"t":36.2,"v":0.1},{"t":36.4,"v":0.1},{"t":36.6,"v":0.1},{"t":36.8,"v":0.1},{"t":37.0,"v":0.1},{"t":37.2,"v":0.1},{"t":37.4,"v":0.1},{"t":37.55,"v":0.1}
]
},
"layer": [
{"data": {"name": "pressure"},
 "mark": {"type": "line", "color": "#1a1a1a", "strokeWidth": 1},
 "encoding": {
  "x": {"field": "t", "type": "quantitative", "scale": {"domain": [0, 37.55], "nice": false, "zero": false},
   "axis": {"title": "Clock Time (hr:min)", "values": [0,3,6,9,12,15,18,21,24,27,30,33,36],
    "labelExpr": "['7:40','7:43','7:46','7:49','7:52','7:55','7:58','8:00','8:03','8:06','8:09','8:12','8:15'][round(datum.value/3)]",
    "grid": false, "domainColor": "#868686", "domainWidth": 1.5, "tickColor": "#868686", "tickWidth": 1.5, "tickSize": 6,
    "labelFont": "Lato", "labelFontSize": 24, "labelColor": "#000", "labelPadding": 19, "labelFlush": false, "labelOverlap": false,
    "titleFont": "Lato", "titleFontSize": 26, "titleFontWeight": "bold", "titleColor": "#000",
    "titleX": 536.5, "titleY": 76, "titleBaseline": "middle", "titleAlign": "center"}},
  "y": {"field": "v", "type": "quantitative", "scale": {"domain": [0, 9000], "nice": false},
   "axis": {"orient": "left", "title": "Surface Treating Pressure (psi)", "values": [0,1000,2000,3000,4000,5000,6000,7000,8000,9000], "format": "d",
    "labelFont": "Lato", "labelFontSize": 24, "labelColor": "#000", "labelPadding": 17,
    "tickSize": 9, "tickColor": "#868686", "tickWidth": 1.5, "domainColor": "#868686", "domainWidth": 1.5,
    "grid": true, "gridColor": "#A0A0A0", "gridWidth": 1.5,
    "titleFont": "Lato", "titleFontSize": 25.5, "titleFontWeight": "bold", "titleColor": "#000",
    "titleX": -102, "titleY": 384.5, "titleAngle": 270, "titleBaseline": "middle", "titleAlign": "center"}}
 }},
{"data": {"name": "pressure"},
 "mark": {"type": "point", "shape": "diamond", "filled": true, "size": 100, "color": "#4F81BD", "opacity": 1},
 "encoding": {
  "x": {"field": "t", "type": "quantitative"},
  "y": {"field": "v", "type": "quantitative", "scale": {"domain": [0, 9000], "nice": false}, "axis": null}
 }},
{"data": {"name": "rate"},
 "mark": {"type": "line", "color": "#1a1a1a", "strokeWidth": 1},
 "encoding": {
  "x": {"field": "t", "type": "quantitative"},
  "y": {"field": "v", "type": "quantitative", "scale": {"domain": [0, 90], "nice": false},
   "axis": {"orient": "right", "title": "Injection Rate (bbl/min)", "values": [0,10,20,30,40,50,60,70,80,90],
    "labelFont": "Lato", "labelFontSize": 24, "labelColor": "#000", "labelPadding": 18,
    "tickSize": 8, "tickColor": "#868686", "tickWidth": 1.5, "domainColor": "#868686", "domainWidth": 1.5, "grid": false,
    "titleFont": "Lato", "titleFontSize": 26, "titleFontWeight": "bold", "titleColor": "#000",
    "titleX": 77, "titleY": 384.5, "titleAngle": 270, "titleBaseline": "middle", "titleAlign": "center"}}
 }},
{"data": {"name": "rate"},
 "mark": {"type": "point", "shape": "square", "filled": true, "size": 81, "color": "#C0504D", "opacity": 1},
 "encoding": {
  "x": {"field": "t", "type": "quantitative"},
  "y": {"field": "v", "type": "quantitative", "scale": {"domain": [0, 90], "nice": false}, "axis": null}
 }},
{"data": {"name": "surf"},
 "mark": {"type": "line", "color": "#1a1a1a", "strokeWidth": 1},
 "encoding": {
  "x": {"field": "t", "type": "quantitative"},
  "y": {"field": "v", "type": "quantitative", "scale": {"domain": [0, 90], "nice": false}, "axis": null}
 }},
{"data": {"name": "surf"},
 "mark": {"type": "point", "shape": "triangle-up", "filled": true, "size": 100, "color": "#9BBB59", "opacity": 1},
 "encoding": {
  "x": {"field": "t", "type": "quantitative"},
  "y": {"field": "v", "type": "quantitative", "scale": {"domain": [0, 90], "nice": false}, "axis": null}
 }},
{"data": {"name": "bh"},
 "mark": {"type": "line", "color": "#1a1a1a", "strokeWidth": 1},
 "encoding": {
  "x": {"field": "t", "type": "quantitative"},
  "y": {"field": "v", "type": "quantitative", "scale": {"domain": [0, 90], "nice": false}, "axis": null}
 }},
{"data": {"name": "bh"},
 "mark": {"type": "point", "shape": "M-1,-1L1,1M-1,1L1,-1", "filled": false, "size": 110, "color": "#8064A2", "strokeWidth": 1.2, "opacity": 1},
 "encoding": {
  "x": {"field": "t", "type": "quantitative"},
  "y": {"field": "v", "type": "quantitative", "scale": {"domain": [0, 90], "nice": false}, "axis": null}
 }},
{"data": {"values": [
  {"series": "Treating Pressure", "t": -30, "v": -5000},
  {"series": "Injection\u00a0 Rate", "t": -30, "v": -5000},
  {"series": "Surface HCl acid flag", "t": -30, "v": -5000},
  {"series": "BH HCl acid flag", "t": -30, "v": -5000}]},
 "mark": {"type": "point", "filled": true, "clip": true, "strokeWidth": 1},
 "encoding": {
  "x": {"field": "t", "type": "quantitative"},
  "y": {"field": "v", "type": "quantitative", "scale": {"domain": [0, 9000], "nice": false}, "axis": null},
  "fill": {"field": "series", "type": "nominal",
   "scale": {"domain": ["Treating Pressure", "Injection\u00a0 Rate", "Surface HCl acid flag", "BH HCl acid flag"], "range": ["#4F81BD", "#C0504D", "#9BBB59", "#8064A2"]},
   "legend": {"orient": "none", "legendX": 7, "legendY": 894, "direction": "horizontal", "title": null, "labelFont": "Lato", "labelFontSize": 25, "labelColor": "#000", "symbolSize": 64, "symbolStrokeWidth": 1, "labelOffset": 9, "columnPadding": 46, "padding": 0, "labelLimit": 400}},
  "stroke": {"field": "series", "type": "nominal",
   "scale": {"domain": ["Treating Pressure", "Injection\u00a0 Rate", "Surface HCl acid flag", "BH HCl acid flag"], "range": ["#4F81BD", "#C0504D", "#9BBB59", "#8064A2"]},
   "legend": {"orient": "none", "legendX": 7, "legendY": 894, "direction": "horizontal", "title": null, "labelFont": "Lato", "labelFontSize": 25, "labelColor": "#000", "symbolSize": 64, "symbolStrokeWidth": 1, "labelOffset": 9, "columnPadding": 46, "padding": 0, "labelLimit": 400}},
  "shape": {"field": "series", "type": "nominal",
   "scale": {"domain": ["Treating Pressure", "Injection\u00a0 Rate", "Surface HCl acid flag", "BH HCl acid flag"],
    "range": ["M-4.5,0H4.5M0,-1.1L1,0L0,1.1L-1,0Z", "M-4.5,0H4.5M-0.9,-0.9H0.9V0.9H-0.9Z", "M-4.5,0H4.5M0,-1L1,0.8H-1Z", "M-4.5,0H4.5M-1,-1L1,1M-1,1L1,-1"]},
   "legend": {"orient": "none", "legendX": 7, "legendY": 894, "direction": "horizontal", "title": null, "labelFont": "Lato", "labelFontSize": 25, "labelColor": "#000", "symbolSize": 64, "symbolStrokeWidth": 1, "labelOffset": 9, "columnPadding": 46, "padding": 0, "labelLimit": 400}}
 }},
{"data": {"values": [{"t": 23.77, "t2": 24.0, "v": 9000, "v2": 0}, {"t": 25.44, "t2": 25.6, "v": 9000, "v2": 0}]},
 "mark": {"type": "rule", "color": "#0F2A5F", "strokeWidth": 3, "strokeDash": [11, 7]},
 "encoding": {
  "x": {"field": "t", "type": "quantitative"}, "x2": {"field": "t2"},
  "y": {"field": "v", "type": "quantitative", "scale": {"domain": [0, 9000], "nice": false}, "axis": null}, "y2": {"field": "v2"}
 }},
{"data": {"values": [{"t": 9.42, "t2": 13.03, "v": 6316, "v2": 5645}, {"t": 13.72, "t2": 16.71, "v": 3628, "v2": 5977}, {"t": 13.55, "t2": 16.0, "v": 2996, "v2": 700}]},
 "mark": {"type": "rule", "color": "#FF0000", "strokeWidth": 3},
 "encoding": {
  "x": {"field": "t", "type": "quantitative"}, "x2": {"field": "t2"},
  "y": {"field": "v", "type": "quantitative", "scale": {"domain": [0, 9000], "nice": false}, "axis": null}, "y2": {"field": "v2"}
 }},
{"data": {"values": [{"t": 13.03, "v": 5645}]},
 "mark": {"type": "point", "shape": "M-1,1.3L0,0L1,1.3", "filled": false, "size": 196, "color": "#FF0000", "strokeWidth": 3, "angle": 119, "opacity": 1},
 "encoding": {"x": {"field": "t", "type": "quantitative"}, "y": {"field": "v", "type": "quantitative", "scale": {"domain": [0, 9000], "nice": false}, "axis": null}}},
{"data": {"values": [{"t": 16.71, "v": 5977}]},
 "mark": {"type": "point", "shape": "M-1,1.3L0,0L1,1.3", "filled": false, "size": 196, "color": "#FF0000", "strokeWidth": 3, "angle": 23, "opacity": 1},
 "encoding": {"x": {"field": "t", "type": "quantitative"}, "y": {"field": "v", "type": "quantitative", "scale": {"domain": [0, 9000], "nice": false}, "axis": null}}},
{"data": {"values": [{"t": 16.0, "v": 700}]},
 "mark": {"type": "point", "shape": "M-1,1.3L0,0L1,1.3", "filled": false, "size": 196, "color": "#FF0000", "strokeWidth": 3, "angle": 160, "opacity": 1},
 "encoding": {"x": {"field": "t", "type": "quantitative"}, "y": {"field": "v", "type": "quantitative", "scale": {"domain": [0, 9000], "nice": false}, "axis": null}}},
{"data": {"values": [{"t": 26.21, "v": 7010, "v2": 4490}]},
 "mark": {"type": "rule", "color": "#C00000", "strokeWidth": 3, "strokeDash": [9, 6]},
 "encoding": {"x": {"field": "t", "type": "quantitative"}, "y": {"field": "v", "type": "quantitative", "scale": {"domain": [0, 9000], "nice": false}, "axis": null}, "y2": {"field": "v2"}}},
{"data": {"values": [{"t": 26.21, "v": 7030}]},
 "mark": {"type": "point", "shape": "M-1,1.1L0,0L1,1.1", "filled": false, "size": 144, "color": "#C00000", "strokeWidth": 3, "angle": 0, "opacity": 1},
 "encoding": {"x": {"field": "t", "type": "quantitative"}, "y": {"field": "v", "type": "quantitative", "scale": {"domain": [0, 9000], "nice": false}, "axis": null}}},
{"data": {"values": [{"t": 26.21, "v": 4470}]},
 "mark": {"type": "point", "shape": "M-1,1.1L0,0L1,1.1", "filled": false, "size": 144, "color": "#C00000", "strokeWidth": 3, "angle": 180, "opacity": 1},
 "encoding": {"x": {"field": "t", "type": "quantitative"}, "y": {"field": "v", "type": "quantitative", "scale": {"domain": [0, 9000], "nice": false}, "axis": null}}},
{"data": {"values": [
  {"t": 29.66, "t2": 36.54, "v": 8786, "v2": 7693}, {"t": 29.61, "t2": 36.47, "v": 7642, "v2": 6566},
  {"t": 29.61, "t2": 36.47, "v": 6523, "v2": 5419}, {"t": 29.66, "t2": 36.54, "v": 5380, "v2": 4292},
  {"t": 29.54, "t2": 36.40, "v": 3453, "v2": 2368}, {"t": 5.33, "t2": 11.32, "v": 6905, "v2": 6316},
  {"t": 6.30, "t2": 15.19, "v": 3605, "v2": 3019}]},
 "mark": {"type": "rect", "fill": "white", "stroke": "#404040", "strokeWidth": 1.3},
 "encoding": {"x": {"field": "t", "type": "quantitative"}, "x2": {"field": "t2"}, "y": {"field": "v", "type": "quantitative", "scale": {"domain": [0, 9000], "nice": false}, "axis": null}, "y2": {"field": "v2"}}},
{"data": {"values": [
  {"t": 30.16, "v": 8552, "s": "Step 1"}, {"t": 30.16, "v": 8228, "s": "Rate = 70.6 bbl/min"}, {"t": 30.16, "v": 7935, "s": "STP = 6857 psi"},
  {"t": 30.13, "v": 7408, "s": "Step 2"}, {"t": 30.13, "v": 7096, "s": "Rate = 43.8 bbl/min"}, {"t": 30.13, "v": 6796, "s": "STP = 5719 psi"},
  {"t": 30.13, "v": 6277, "s": "Step 3"}, {"t": 30.13, "v": 5965, "s": "Rate = 29.3 bbl/min"}, {"t": 30.13, "v": 5673, "s": "STP = 5218 psi"},
  {"t": 30.16, "v": 5138, "s": "Step 4"}, {"t": 30.16, "v": 4825, "s": "Rate =14.7 bbl/min"}, {"t": 30.16, "v": 4533, "s": "STP = 4758 psi"},
  {"t": 30.04, "v": 3215, "s": "ISIP"}, {"t": 30.04, "v": 2902, "s": "Rate = 0 bbl/min"}, {"t": 30.04, "v": 2602, "s": "STP = 4385 psi"}]},
 "mark": {"type": "text", "align": "left", "baseline": "middle", "font": "Lato", "fontSize": 19.7, "color": "#000"},
 "encoding": {"x": {"field": "t", "type": "quantitative"}, "y": {"field": "v", "type": "quantitative", "scale": {"domain": [0, 9000], "nice": false}, "axis": null}, "text": {"field": "s"}}},
{"data": {"values": [{"t": 8.42, "v": 6659, "s": "Frac ball seated"}, {"t": 10.71, "v": 3347, "s": "HCl acid at perforations"}]},
 "mark": {"type": "text", "align": "center", "baseline": "middle", "font": "Lato", "fontSize": 21.8, "color": "#000"},
 "encoding": {"x": {"field": "t", "type": "quantitative"}, "y": {"field": "v", "type": "quantitative", "scale": {"domain": [0, 9000], "nice": false}, "axis": null}, "text": {"field": "s"}}},
{"data": {"values": [{"t": 30.16, "t2": 32.09, "v": 8453}, {"t": 30.13, "t2": 32.06, "v": 7303}, {"t": 30.13, "t2": 32.06, "v": 6168}, {"t": 30.16, "t2": 32.09, "v": 5038}, {"t": 30.04, "t2": 31.16, "v": 3128}]},
 "mark": {"type": "rule", "color": "#000", "strokeWidth": 1},
 "encoding": {"x": {"field": "t", "type": "quantitative"}, "x2": {"field": "t2"}, "y": {"field": "v", "type": "quantitative", "scale": {"domain": [0, 9000], "nice": false}, "axis": null}}},
{"data": {"values": [{"t": -5.18, "t2": 41.1, "v": 9390}, {"t": -5.03, "t2": 41.1, "v": 9304}]},
 "mark": {"type": "rule", "color": "#B0B0B0", "strokeWidth": 1.2},
 "encoding": {"x": {"field": "t", "type": "quantitative"}, "x2": {"field": "t2"}, "y": {"field": "v", "type": "quantitative", "scale": {"domain": [0, 9000], "nice": false}, "axis": null}}},
{"data": {"values": [{"t": -5.03, "v": 9304, "v2": -2100}]},
 "mark": {"type": "rule", "color": "#B0B0B0", "strokeWidth": 1.2},
 "encoding": {"x": {"field": "t", "type": "quantitative"}, "y": {"field": "v", "type": "quantitative", "scale": {"domain": [0, 9000], "nice": false}, "axis": null}, "y2": {"field": "v2"}}}
],
"resolve": {"scale": {"y": "independent"}}
}
